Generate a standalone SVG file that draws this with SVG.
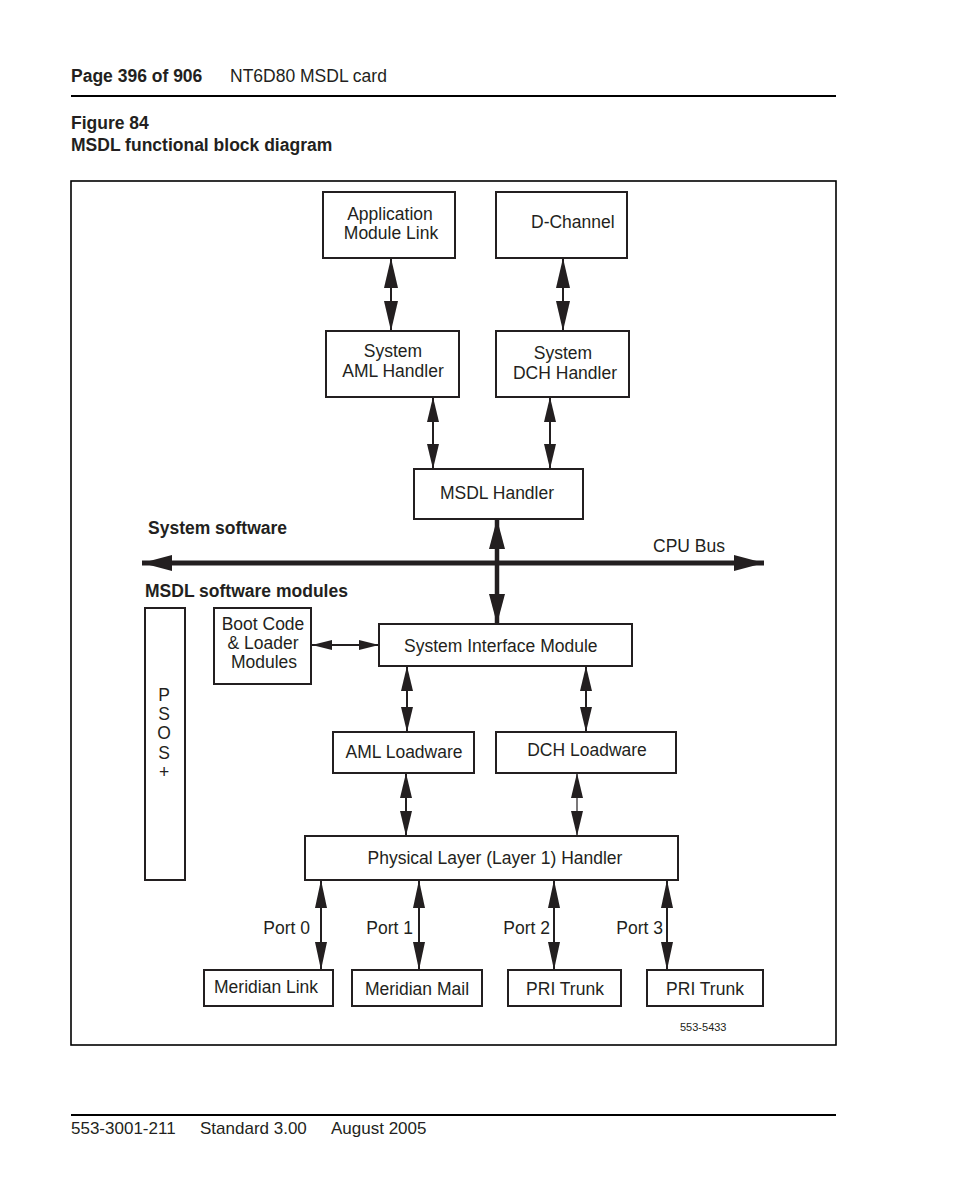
<svg xmlns="http://www.w3.org/2000/svg" width="954" height="1202" viewBox="0 0 954 1202">
<style>
text{font-family:"Liberation Sans",Arial,sans-serif;font-size:17.5px;fill:#231f20}
.b{font-weight:bold}
.c{text-anchor:middle}
.e{text-anchor:end}
.box{fill:#fff;stroke:#231f20;stroke-width:2}
.ln{stroke:#231f20;stroke-width:2;fill:none}
.thick{stroke-width:4.5}
.bus{stroke-width:5}
.thin{stroke-width:1.2}
.rule{stroke:#000;stroke-width:2.2}
</style>
<defs>
<marker id="hL" markerUnits="userSpaceOnUse" viewBox="0 0 30 14" markerWidth="30" markerHeight="14" refX="30" refY="7" orient="auto-start-reverse"><path d="M0,0 L30,7 L0,14 Z" fill="#231f20"/></marker>
<marker id="hM" markerUnits="userSpaceOnUse" viewBox="0 0 25 12" markerWidth="25" markerHeight="12" refX="25" refY="6" orient="auto-start-reverse"><path d="M0,0 L25,6 L0,12 Z" fill="#231f20"/></marker>
<marker id="hP" markerUnits="userSpaceOnUse" viewBox="0 0 28 12" markerWidth="28" markerHeight="12" refX="28" refY="6" orient="auto-start-reverse"><path d="M0,0 L28,6 L0,12 Z" fill="#231f20"/></marker>
<marker id="hB" markerUnits="userSpaceOnUse" viewBox="0 0 30 16" markerWidth="30" markerHeight="16" refX="30" refY="8" orient="auto-start-reverse"><path d="M0,0 L30,8 L0,16 Z" fill="#231f20"/></marker>
<marker id="hS" markerUnits="userSpaceOnUse" viewBox="0 0 20 10" markerWidth="20" markerHeight="10" refX="20" refY="5" orient="auto-start-reverse"><path d="M0,0 L20,5 L0,10 Z" fill="#231f20"/></marker>
</defs>
<rect width="954" height="1202" fill="#fff"/>

<g id="header">
<text x="71" y="82" class="b">Page 396 of 906</text>
<text x="230" y="82">NT6D80 MSDL card</text>
<line x1="71" y1="96" x2="836" y2="96" class="rule"/>
<text x="71" y="129" class="b">Figure 84</text>
<text x="71" y="151" class="b">MSDL functional block diagram</text>
</g>

<rect id="frame" x="71" y="181" width="765" height="864" fill="none" stroke="#000" stroke-width="1.6"/>

<g id="connectors">
<line x1="391" y1="258" x2="391" y2="331" class="ln" marker-start="url(#hL)" marker-end="url(#hL)"/>
<line x1="563" y1="258" x2="563" y2="331" class="ln" marker-start="url(#hL)" marker-end="url(#hL)"/>
<line x1="433" y1="397" x2="433" y2="469" class="ln" marker-start="url(#hM)" marker-end="url(#hM)"/>
<line x1="550" y1="397" x2="550" y2="469" class="ln" marker-start="url(#hM)" marker-end="url(#hM)"/>
<line x1="497" y1="519" x2="497" y2="624" class="ln thick" marker-start="url(#hB)" marker-end="url(#hB)"/>
<line x1="142" y1="563" x2="764" y2="563" class="ln bus" marker-start="url(#hB)" marker-end="url(#hB)"/>
<line x1="312" y1="645" x2="379" y2="645" class="ln" marker-start="url(#hS)" marker-end="url(#hS)"/>
<line x1="407" y1="666" x2="407" y2="732" class="ln" marker-start="url(#hM)" marker-end="url(#hM)"/>
<line x1="586" y1="666" x2="586" y2="732" class="ln" marker-start="url(#hM)" marker-end="url(#hM)"/>
<line x1="406" y1="773" x2="406" y2="836" class="ln" marker-start="url(#hM)" marker-end="url(#hM)"/>
<line x1="577" y1="773" x2="577" y2="836" class="ln thin" marker-start="url(#hM)" marker-end="url(#hM)"/>
<line x1="321" y1="880" x2="321" y2="970" class="ln" marker-start="url(#hP)" marker-end="url(#hP)"/>
<line x1="419" y1="880" x2="419" y2="970" class="ln" marker-start="url(#hP)" marker-end="url(#hP)"/>
<line x1="554" y1="880" x2="554" y2="970" class="ln" marker-start="url(#hP)" marker-end="url(#hP)"/>
<line x1="667" y1="880" x2="667" y2="970" class="ln" marker-start="url(#hP)" marker-end="url(#hP)"/>
</g>

<g id="aml-link"><rect x="323" y="192" width="132" height="66" class="box"/><text x="390" y="220" class="c">Application</text><text x="391" y="239" class="c">Module Link</text></g>
<g id="d-channel"><rect x="496" y="192" width="131" height="66" class="box"/><text x="531" y="228">D-Channel</text></g>
<g id="sys-aml"><rect x="326" y="331" width="133" height="66" class="box"/><text x="393" y="357" class="c">System</text><text x="393" y="377" class="c">AML Handler</text></g>
<g id="sys-dch"><rect x="496" y="331" width="133" height="66" class="box"/><text x="563" y="359" class="c">System</text><text x="565" y="379" class="c">DCH Handler</text></g>
<g id="msdl-handler"><rect x="414" y="469" width="169" height="50" class="box"/><text x="497" y="499" class="c">MSDL Handler</text></g>

<g id="labels">
<text x="148" y="534" class="b">System software</text>
<text x="653" y="552">CPU Bus</text>
<text x="145" y="597" class="b">MSDL software modules</text>
<text x="310" y="934" class="e">Port 0</text>
<text x="413" y="934" class="e">Port 1</text>
<text x="550" y="934" class="e">Port 2</text>
<text x="663" y="934" class="e">Port 3</text>
<text x="680" y="1031" style="font-size:11px">553-5433</text>
</g>

<g id="sim"><rect x="379" y="624" width="253" height="42" class="box"/><text x="404" y="652">System Interface Module</text></g>
<g id="boot"><rect x="214" y="608" width="97" height="76" class="box"/><text x="263" y="630" class="c">Boot Code</text><text x="263" y="649" class="c">&amp; Loader</text><text x="264" y="668" class="c">Modules</text></g>
<g id="psos"><rect x="145" y="608" width="40" height="272" class="box"/>
<text x="164" y="701" class="c">P</text><text x="164" y="720" class="c">S</text><text x="164" y="739" class="c">O</text><text x="164" y="759" class="c">S</text><text x="164" y="778" class="c">+</text></g>
<g id="aml-lw"><rect x="333" y="732" width="141" height="41" class="box"/><text x="404" y="758" class="c">AML Loadware</text></g>
<g id="dch-lw"><rect x="496" y="732" width="180" height="41" class="box"/><text x="587" y="756" class="c">DCH Loadware</text></g>
<g id="phys"><rect x="305" y="836" width="373" height="44" class="box"/><text x="495" y="864" class="c">Physical Layer (Layer 1) Handler</text></g>
<g id="meridian-link"><rect x="204" y="970" width="129" height="36" class="box"/><text x="214" y="993">Meridian Link</text></g>
<g id="meridian-mail"><rect x="352" y="970" width="130" height="36" class="box"/><text x="417" y="995" class="c">Meridian Mail</text></g>
<g id="pri1"><rect x="508" y="970" width="113" height="36" class="box"/><text x="565" y="995" class="c">PRI Trunk</text></g>
<g id="pri2"><rect x="647" y="970" width="116" height="36" class="box"/><text x="705" y="995" class="c">PRI Trunk</text></g>

<g id="footer">
<line x1="71" y1="1115" x2="836" y2="1115" class="rule"/>
<text x="71" y="1134" style="font-size:17px">553-3001-211</text>
<text x="200" y="1134" style="font-size:17px">Standard 3.00</text>
<text x="331" y="1134" style="font-size:17px">August 2005</text>
</g>
</svg>
